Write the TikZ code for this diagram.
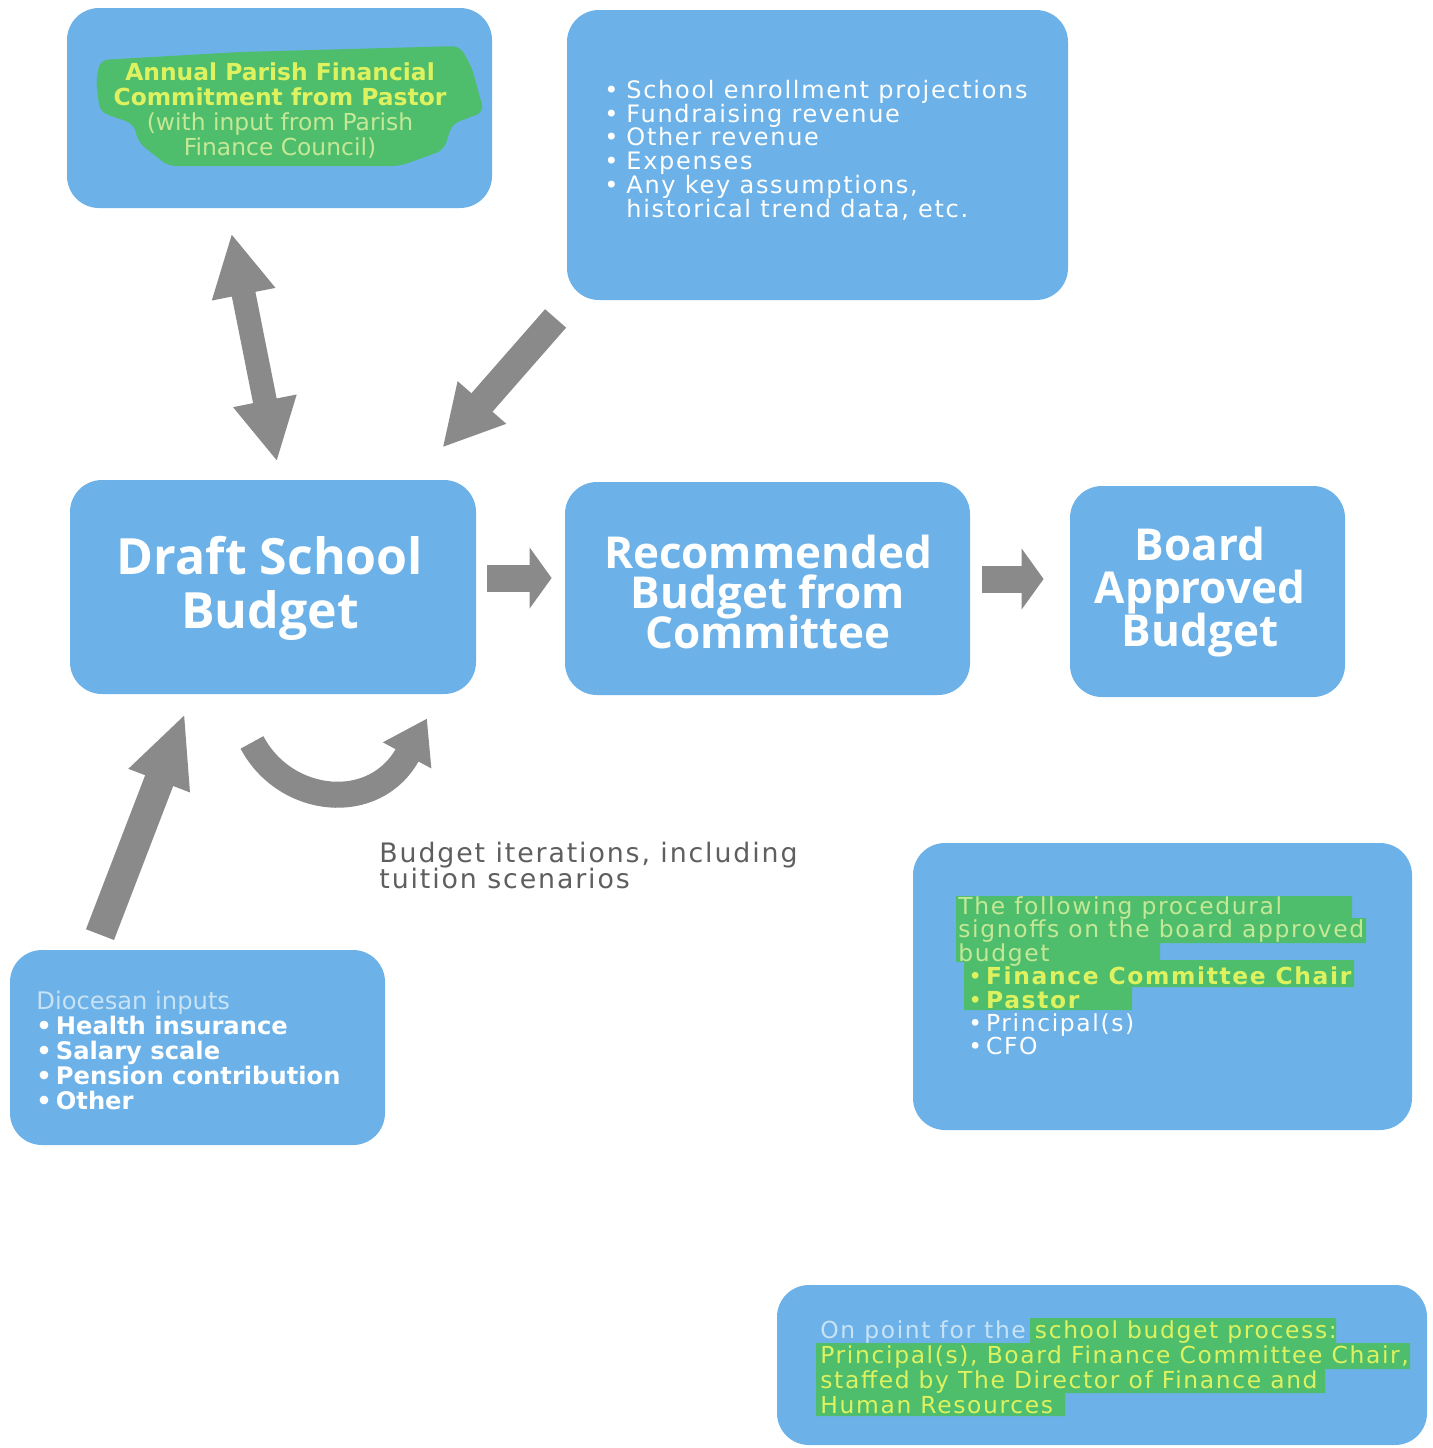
\documentclass[tikz,border=0pt]{standalone}
\usepackage{fontspec}
\setmainfont{Open Sans}
\newfontfamily\dv{DejaVu Sans}
\newfontfamily\dvw[LetterSpace=7]{DejaVu Sans}
\usetikzlibrary{arrows.meta}
\definecolor{boxblue}{RGB}{108,178,232}
\definecolor{hlgreen}{RGB}{78,190,108}
\definecolor{hly}{RGB}{222,242,96}
\definecolor{hlp}{RGB}{196,232,150}
\definecolor{arrowgray}{RGB}{138,138,138}
\definecolor{capgray}{RGB}{95,95,95}
\definecolor{fadeblue}{RGB}{200,226,246}
\newcommand{\tightlines}{\lineskiplimit=-100pt\relax}
\tikzset{
  box/.style={fill=boxblue, rounded corners=16pt, inner sep=0pt},
  bigtxt/.style={font=\bfseries\fontsize{25}{27}\selectfont\tightlines, text=white, align=center, inner sep=0pt},
  midtxt/.style={font=\bfseries\fontsize{22}{20}\selectfont\tightlines, text=white, align=center, inner sep=0pt},
  hl/.style={fill=hlgreen},
  garrow/.style={draw=arrowgray, line cap=butt},
  smalltxt/.style={align=left, inner sep=0pt},
}
\begin{document}
\begin{tikzpicture}[x=0.5pt,y=-0.5pt]
\useasboundingbox[fill=white] (0,0) rectangle (1432,1448);
% boxes
\node[box, minimum width=212.5pt, minimum height=100pt] (ann) at (279.5,108) {};
\node[box, minimum width=250.5pt, minimum height=145pt] (inputs) at (817.5,155) {};
\node[box, minimum width=203pt, minimum height=107pt] (draft) at (273,587) {};
\node[box, minimum width=202.5pt, minimum height=106.5pt] (rec) at (767.5,588.5) {};
\node[box, minimum width=137.5pt, minimum height=105.5pt] (board) at (1207.5,591.5) {};
\node[box, minimum width=187.5pt, minimum height=97.5pt] (dio) at (197.5,1047.5) {};
\node[box, minimum width=249.5pt, minimum height=143.5pt] (sign) at (1162.5,986.5) {};
\node[box, minimum width=325pt, minimum height=80pt] (onpoint) at (1102,1365) {};
% highlights
\fill[hl, rounded corners=4pt] (100,60) -- (240,52) -- (460,46) -- (472,68) -- (484,112) -- (452,124) -- (444,150) -- (400,166) -- (168,166) -- (138,142) -- (134,124) -- (100,112) -- (96,82) -- cycle;
\fill[hl] (956,896) rectangle (1352,920) (956,918) rectangle (1366,943) (956,941) rectangle (1160,962)
          (964,960) rectangle (1354,987) (964,985) rectangle (1132,1010);
\fill[hl] (1030,1318) rectangle (1336,1345) (816,1343) rectangle (1410,1369)
          (816,1367) rectangle (1325,1393) (816,1391) rectangle (1065,1416);
% texts
\node[font=\dv\fontsize{11.7}{12.5}\selectfont\tightlines, align=center, inner sep=0pt] (t1) at (280,111)
  {\textbf{\textcolor{hly}{Annual Parish Financial}}\\\textbf{\textcolor{hly}{Commitment from Pastor}}\\\textcolor{hlp}{(with input from Parish}\\\textcolor{hlp}{Finance Council)}};
\node[smalltxt, font=\dvw\fontsize{12}{11.9}\selectfont\tightlines, text=white] (t2) at (816,150)
  {\makebox[11pt][l]{•}School enrollment projections\\\makebox[11pt][l]{•}Fundraising revenue\\\makebox[11pt][l]{•}Other revenue\\\makebox[11pt][l]{•}Expenses\\\makebox[11pt][l]{•}Any key assumptions,\\\hspace*{11pt}historical trend data, etc.};
\node[bigtxt] (t3) at (270,588) {Draft School\\Budget};
\node[midtxt] (t4) at (768,592) {Recommended\\Budget from\\Committee};
\node[midtxt, font=\bfseries\fontsize{22}{21.5}\selectfont\tightlines] (t5) at (1200,592) {Board\\Approved\\Budget};
\node[smalltxt, anchor=west, font=\dv\fontsize{12.1}{12.5}\selectfont\tightlines] (t6) at (36,1050)
  {\textcolor{fadeblue}{Diocesan inputs}\\\textcolor{white}{\textbf{•\,Health insurance}}\\\textcolor{white}{\textbf{•\,Salary scale}}\\\textcolor{white}{\textbf{•\,Pension contribution}}\\\textcolor{white}{\textbf{•\,Other}}};
\node[smalltxt, anchor=west, font=\dvw\fontsize{11.7}{11.7}\selectfont\tightlines] (t7) at (958,976)
  {\textcolor{hlp}{The following procedural}\\\textcolor{hlp}{signoffs on the board approved}\\\textcolor{hlp}{budget}\\\hspace*{5pt}\textcolor{hly}{•\,\textbf{Finance Committee Chair}}\\\hspace*{5pt}\textcolor{hly}{•\,\textbf{Pastor}}\\\hspace*{5pt}\textcolor{white}{•\,Principal(s)}\\\hspace*{5pt}\textcolor{white}{•\,CFO}};
\node[smalltxt, anchor=west, font=\dvw\fontsize{11.7}{12.5}\selectfont\tightlines, text=hly] (t8) at (820,1367)
  {\textcolor{fadeblue}{On point for the} school budget process:\\Principal(s), Board Finance Committee Chair,\\staffed by The Director of Finance and\\Human Resources};
\node[smalltxt, anchor=west, font=\dvw\fontsize{13.4}{13}\selectfont\tightlines, text=capgray] (cap) at (379,865)
  {Budget iterations, including\\tuition scenarios};
% arrows
\draw[garrow, line width=12pt, {Triangle[length=31pt,width=30pt]}-{Triangle[length=31pt,width=30pt]}]
  ([xshift=-24pt,yshift=-12.5pt]ann.south) -- ([xshift=2pt,yshift=9pt]draft.north);
\draw[garrow, line width=14pt, -{Triangle[length=30pt,width=30pt]}]
  ([xshift=-5.5pt,yshift=-9pt]inputs.south west) -- ([xshift=-17pt,yshift=16pt]draft.north east);
\draw[garrow, line width=13.5pt, -{Triangle[length=11pt,width=30pt]}]
  ([xshift=5.5pt,yshift=4.5pt]draft.east) -- ([xshift=-6.5pt,yshift=5.25pt]rec.west);
\draw[garrow, line width=13.5pt, -{Triangle[length=11pt,width=30pt]}]
  ([xshift=6pt,yshift=4.75pt]rec.east) -- ([xshift=-13pt,yshift=6.25pt]board.west);
\draw[garrow, line width=15pt, -{Triangle[length=36pt,width=30pt]}]
  ([xshift=-48.75pt,yshift=7.5pt]dio.north) -- ([xshift=-44pt,yshift=-9.5pt]draft.south);
\draw[garrow, line width=13pt, -{Triangle[length=21pt,width=26pt]}]
  ([xshift=-10.5pt,yshift=-24pt]draft.south) .. controls (285,805) and (375,815) .. ([xshift=77pt,yshift=-12pt]draft.south);
\end{tikzpicture}
\end{document}
